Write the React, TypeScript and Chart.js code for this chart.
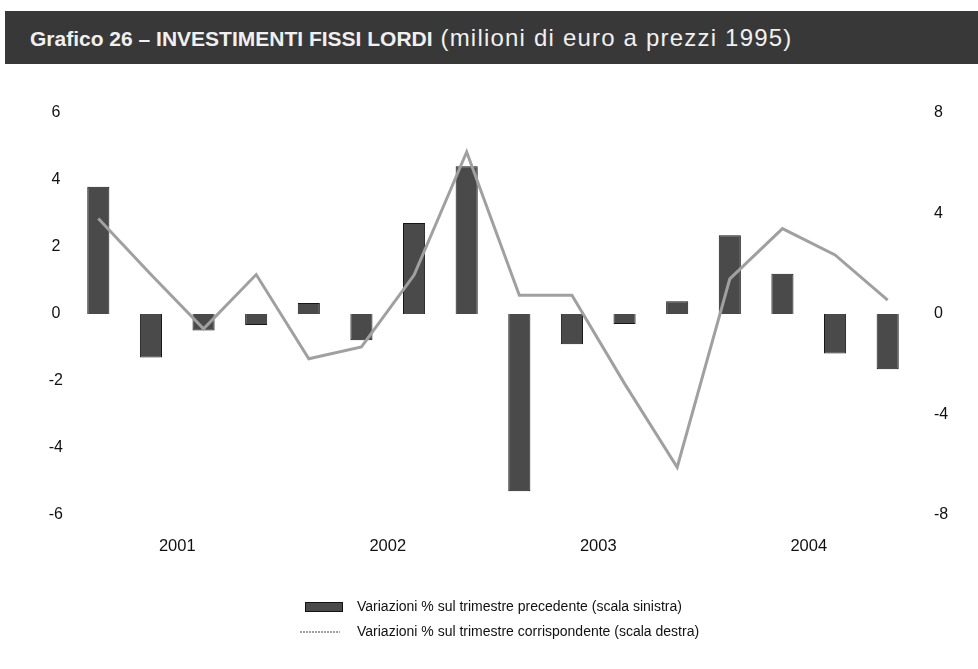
import { useEffect, useRef } from 'react';
import { Chart, registerables } from 'chart.js';

Chart.register(...registerables);

const quarters = [
  '2001 T1', '2001 T2', '2001 T3', '2001 T4',
  '2002 T1', '2002 T2', '2002 T3', '2002 T4',
  '2003 T1', '2003 T2', '2003 T3', '2003 T4',
  '2004 T1', '2004 T2', '2004 T3', '2004 T4',
];
const years = ['2001', '2002', '2003', '2004'];
const congiunturale = [3.8, -1.3, -0.49, -0.33, 0.33, -0.78, 2.72, 4.41, -5.29, -0.9, -0.3, 0.38, 2.35, 1.2, -1.18, -1.65];
const tendenziale = [3.8, 1.57, -0.59, 1.57, -1.78, -1.31, 1.55, 6.45, 0.75, 0.75, -2.77, -6.1, 1.4, 3.4, 2.35, 0.55];
const leftRange = [-6, 6];
const rightRange = [-8, 8];
const seriesLabels = [
  'Variazioni % sul trimestre precedente (scala sinistra)',
  'Variazioni % sul trimestre corrispondente (scala destra)',
];

const FONT = '"Liberation Sans", Arial, Helvetica, sans-serif';

const legendPlugin = {
  id: 'stackedLegend',
  afterDraw(chart: any) {
    const ctx = chart.ctx;
    const ds = chart.data.datasets;
    ctx.save();
    ctx.font = `14px ${FONT}`;
    ctx.textBaseline = 'middle';
    ctx.textAlign = 'left';
    // bar item
    ctx.fillStyle = ds[0].backgroundColor;
    ctx.fillRect(305, 602, 38, 10);
    ctx.strokeStyle = '#111';
    ctx.lineWidth = 1;
    ctx.strokeRect(305.5, 602.5, 37, 9);
    ctx.fillStyle = '#111';
    ctx.fillText(ds[0].label, 357, 607);
    // line item
    ctx.strokeStyle = ds[1].borderColor;
    ctx.lineWidth = 2;
    ctx.setLineDash([2, 1]);
    ctx.beginPath();
    ctx.moveTo(300, 632);
    ctx.lineTo(340, 632);
    ctx.stroke();
    ctx.setLineDash([]);
    ctx.fillText(ds[1].label, 357, 632);
    ctx.restore();
  },
};

export default function App() {
  const canvasRef = useRef<HTMLCanvasElement | null>(null);

  useEffect(() => {
    if (!canvasRef.current) return;
    const chart = new Chart(canvasRef.current, {
      type: 'bar',
      data: {
        labels: quarters,
        datasets: [
          {
            type: 'bar',
            label: seriesLabels[0],
            data: congiunturale,
            backgroundColor: '#4a4a4a',
            borderColor: '#161616',
            borderWidth: 1,
            yAxisID: 'yL',
            xAxisID: 'x',
            barPercentage: 0.42,
            categoryPercentage: 1,
            order: 2,
          },
          {
            type: 'line',
            label: seriesLabels[1],
            data: tendenziale,
            borderColor: '#a0a0a0',
            borderWidth: 3,
            pointRadius: 0,
            tension: 0,
            yAxisID: 'yR',
            xAxisID: 'x',
            order: 1,
          },
        ],
      },
      options: {
        responsive: false,
        animation: false,
        layout: { padding: { top: 113, bottom: 0, left: 0, right: 0 } },
        plugins: {
          legend: { display: false },
          tooltip: { enabled: false },
          title: { display: false },
        },
        scales: {
          x: {
            type: 'category',
            display: false,
            offset: true,
            grid: { display: false },
          },
          xYear: {
            type: 'category',
            labels: years,
            position: 'bottom',
            offset: true,
            grid: { display: false, drawTicks: false },
            border: { display: false },
            ticks: {
              color: '#111',
              font: { family: FONT, size: 16.5 },
              padding: 22,
            },
            afterFit: (s: any) => { s.height = 154; },
          },
          yL: {
            type: 'linear',
            position: 'left',
            min: leftRange[0],
            max: leftRange[1],
            grid: { display: false, drawTicks: false },
            border: { display: false },
            ticks: {
              stepSize: 2,
              color: '#111',
              font: { family: FONT, size: 16 },
              padding: 9,
              crossAlign: 'center',
            },
            afterFit: (s: any) => { s.width = 72; },
          },
          yR: {
            type: 'linear',
            position: 'right',
            min: rightRange[0],
            max: rightRange[1],
            grid: { display: false, drawTicks: false },
            border: { display: false },
            ticks: {
              stepSize: 4,
              color: '#111',
              font: { family: FONT, size: 16 },
              padding: 20,
            },
            afterFit: (s: any) => { s.width = 64; },
          },
        },
      },
      plugins: [legendPlugin],
    } as any);
    return () => chart.destroy();
  }, []);

  return (
    <div style={{ position: 'absolute', left: 0, top: 0, width: 978, height: 669, background: '#fff', overflow: 'hidden' }}>
      <canvas ref={canvasRef} width={978} height={669} style={{ position: 'absolute', left: 0, top: 0, width: 978, height: 669 }} />
      <div
        style={{
          position: 'absolute',
          left: 5,
          top: 11,
          width: 973,
          height: 53,
          background: '#383838',
          color: '#f0f0f0',
          fontFamily: FONT,
          lineHeight: '53px',
          paddingLeft: 25,
          boxSizing: 'border-box',
          whiteSpace: 'nowrap',
        }}
      >
        <span style={{ fontWeight: 'bold', fontSize: 21 }}>Grafico 26 – INVESTIMENTI FISSI LORDI</span>
        <span style={{ fontSize: 24, letterSpacing: '1.2px' }}> (milioni di euro a prezzi 1995)</span>
      </div>
    </div>
  );
}
